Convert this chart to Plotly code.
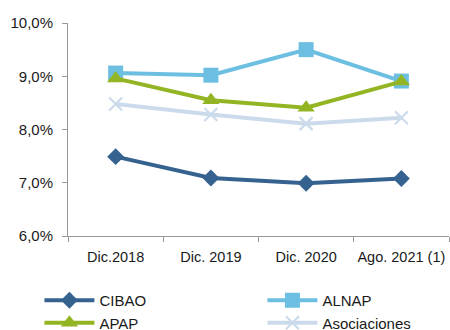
import plotly.graph_objects as go

categories = ["Dic.2018", "Dic. 2019", "Dic. 2020", "Ago. 2021 (1)"]
cibao = [7.49, 7.09, 6.99, 7.08]
alnap = [9.06, 9.02, 9.50, 8.91]
apap = [8.96, 8.55, 8.41, 8.90]
asociaciones = [8.48, 8.28, 8.11, 8.22]
y_ticks = [6, 7, 8, 9, 10]
y_labels = ["6,0%", "7,0%", "8,0%", "9,0%", "10,0%"]

fig = go.Figure()
series = [
    ("CIBAO", cibao, "#35628F", "diamond", 13, 0),
    ("ALNAP", alnap, "#6DBFE2", "square", 15, 0),
    ("APAP", apap, "#93B524", "triangle-up", 15, 0),
    ("Asociaciones", asociaciones, "#CCDBEC", "x-thin", 13, 2.2),
]
for name, vals, color, sym, size, mlw in series:
    fig.add_trace(go.Scatter(
        x=categories, y=vals, name=name, mode="lines+markers",
        line=dict(color=color, width=4),
        marker=dict(symbol=sym, size=size, color=color,
                    line=dict(width=mlw, color=color)),
    ))

fig.update_layout(
    width=450, height=330,
    margin=dict(l=68, r=1, t=23, b=94, autoexpand=False),
    paper_bgcolor="white", plot_bgcolor="white",
    font=dict(family="Liberation Sans, Arial, sans-serif", size=15, color="#1a1a1a"),
    showlegend=True,
    legend=dict(
        orientation="h", xref="paper", yref="paper",
        x=-0.075, y=-0.225, xanchor="left", yanchor="top",
        entrywidth=158, entrywidthmode="pixels",
        font=dict(size=15, color="#1a1a1a"),
        tracegroupgap=0, itemwidth=50,
    ),
    xaxis=dict(
        range=[-0.5, 3.5], showgrid=False, showline=True, linecolor="#999999",
        linewidth=1, ticks="outside", tickson="boundaries", ticklen=5,
        tickcolor="#999999", zeroline=False, ticklabelstandoff=8,
        tickangle=0, automargin=False, tickfont=dict(size=14.5),
    ),
    yaxis=dict(
        range=[6, 10], tickvals=y_ticks, ticktext=y_labels, showgrid=False,
        showline=True, linecolor="#999999", linewidth=1, ticks="outside",
        ticklen=5, tickcolor="#999999", zeroline=False, ticklabelstandoff=6,
        automargin=False,
    ),
)

fig.write_html("out.html")
